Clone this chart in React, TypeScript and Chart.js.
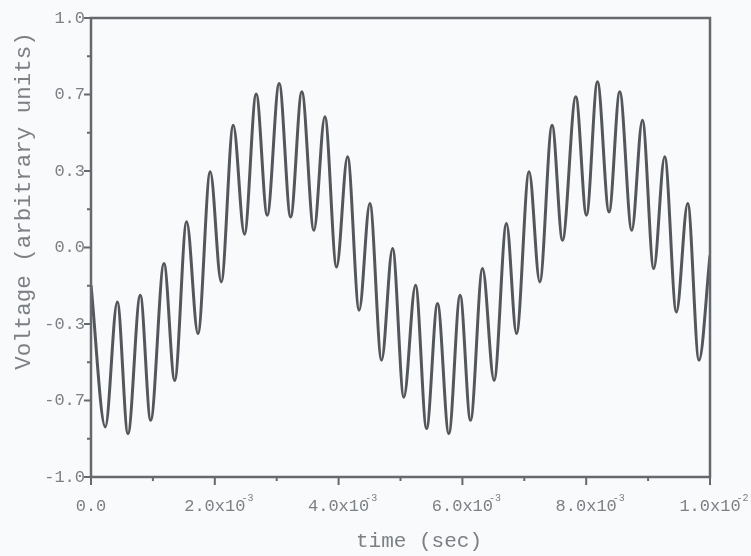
import React, { useEffect, useRef } from "react";
import { Chart, registerables } from "chart.js";

Chart.register(...registerables);

// Sampled waveform: time in milliseconds, voltage in arbitrary units (peaks and troughs)
const TIME_MS = [
  0, 0.231, 0.425, 0.597, 0.796, 0.964, 1.179, 1.352, 1.545, 1.728, 1.926, 2.104,
  2.298, 2.479, 2.669, 2.847, 3.04, 3.225, 3.406, 3.601, 3.778, 3.967, 4.145, 4.332,
  4.505, 4.694, 4.872, 5.054, 5.243, 5.421, 5.598, 5.781, 5.963, 6.131, 6.325, 6.512,
  6.712, 6.874, 7.077, 7.25, 7.449, 7.617, 7.832, 8.004, 8.182, 8.369, 8.542, 8.736,
  8.908, 9.091, 9.268, 9.457, 9.64, 9.822, 10.0,
];
const VOLTAGE = [
  -0.164, -0.782, -0.237, -0.811, -0.208, -0.753, -0.07, -0.579, 0.112, -0.375, 0.33, -0.15,
  0.533, 0.058, 0.669, 0.141, 0.715, 0.133, 0.679, 0.075, 0.57, -0.085, 0.395, -0.273,
  0.192, -0.491, -0.004, -0.652, -0.164, -0.789, -0.244, -0.811, -0.208, -0.753, -0.092, -0.579,
  0.105, -0.375, 0.33, -0.15, 0.533, 0.032, 0.657, 0.141, 0.722, 0.155, 0.679, 0.075,
  0.555, -0.092, 0.395, -0.281, 0.192, -0.491, -0.034,
];

// Axis ticks
const X_TICKS = [0, 2, 4, 6, 8, 10];
const X_TICK_LABELS = ["0.0", "2.0x10", "4.0x10", "6.0x10", "8.0x10", "1.0x10"];
const X_TICK_EXPONENTS = ["", "-3", "-3", "-3", "-3", "-2"];
const X_MINOR_TICKS = [1, 3, 5, 7, 9];
const Y_TICKS = [-1, -2 / 3, -1 / 3, 0, 1 / 3, 2 / 3, 1];
const Y_TICK_LABELS = ["-1.0", "-0.7", "-0.3", "0.0", "0.3", "0.7", "1.0"];
const Y_MINOR_TICKS = [-5 / 6, -0.5, -1 / 6, 1 / 6, 0.5, 5 / 6];

const X_TITLE = "time (sec)";
const Y_TITLE = "Voltage (arbitrary units)";

const FONT = "'Liberation Mono', 'Courier New', monospace";
const AXIS_COLOR = "#65696d";
const TEXT_COLOR = "#7c8084";
const LINE_COLOR = "#53575b";
const BG = "#f8fafb";

const framePlugin = {
  id: "frame",
  beforeDraw(chart: any) {
    const { ctx, width, height } = chart;
    ctx.save();
    ctx.fillStyle = BG;
    ctx.fillRect(0, 0, width, height);
    ctx.restore();
  },
  afterDraw(chart: any) {
    const { ctx, chartArea } = chart;
    const xs = chart.scales.x;
    const ys = chart.scales.y;
    const { left, right, top, bottom } = chartArea;
    ctx.save();
    ctx.strokeStyle = AXIS_COLOR;
    ctx.lineWidth = 2.5;
    ctx.strokeRect(left, top, right - left, bottom - top);

    // tick marks
    ctx.lineWidth = 2;
    ctx.beginPath();
    X_TICKS.forEach((v) => {
      const px = xs.getPixelForValue(v);
      ctx.moveTo(px, bottom);
      ctx.lineTo(px, bottom + 8);
    });
    X_MINOR_TICKS.forEach((v) => {
      const px = xs.getPixelForValue(v);
      ctx.moveTo(px, bottom);
      ctx.lineTo(px, bottom + 4);
    });
    Y_TICKS.forEach((v) => {
      const py = ys.getPixelForValue(v);
      ctx.moveTo(left, py);
      ctx.lineTo(left - 7, py);
    });
    Y_MINOR_TICKS.forEach((v) => {
      const py = ys.getPixelForValue(v);
      ctx.moveTo(left, py);
      ctx.lineTo(left - 4, py);
    });
    ctx.stroke();

    // tick labels
    ctx.fillStyle = TEXT_COLOR;
    ctx.font = `17px ${FONT}`;
    ctx.textBaseline = "middle";
    ctx.textAlign = "right";
    Y_TICKS.forEach((v, i) => {
      ctx.fillText(Y_TICK_LABELS[i], left - 6, ys.getPixelForValue(v));
    });
    X_TICKS.forEach((v, i) => {
      const px = xs.getPixelForValue(v);
      ctx.font = `17px ${FONT}`;
      ctx.textAlign = "center";
      ctx.fillText(X_TICK_LABELS[i], px, bottom + 29);
      const exp = X_TICK_EXPONENTS[i];
      if (exp) {
        const w = ctx.measureText(X_TICK_LABELS[i]).width;
        ctx.font = `10px ${FONT}`;
        ctx.textAlign = "left";
        ctx.fillText(exp, px + w / 2 - 4, bottom + 21);
      }
    });

    // axis titles
    ctx.font = `21px ${FONT}`;
    ctx.textAlign = "center";
    ctx.fillText(X_TITLE, 419, 541);
    ctx.font = `22.5px ${FONT}`;
    ctx.translate(24, 201);
    ctx.rotate(-Math.PI / 2);
    ctx.fillText(Y_TITLE, 0, 0);
    ctx.restore();
  },
};

export default function App() {
  const ref = useRef<HTMLCanvasElement | null>(null);

  useEffect(() => {
    if (!ref.current) return;
    const chart = new Chart(ref.current, {
      type: "line",
      data: {
        datasets: [
          {
            data: TIME_MS.map((t, i) => ({ x: t, y: VOLTAGE[i] })),
            borderColor: LINE_COLOR,
            borderWidth: 3,
            pointRadius: 0,
            cubicInterpolationMode: "monotone",
            fill: false,
          },
        ],
      },
      options: {
        responsive: false,
        animation: false,
        events: [],
        layout: { padding: { left: 91, right: 41, top: 18, bottom: 79 } },
        plugins: { legend: { display: false }, tooltip: { enabled: false } },
        scales: {
          x: { type: "linear", min: 0, max: 10, display: false },
          y: { type: "linear", min: -1, max: 1, display: false },
        },
      },
      plugins: [framePlugin],
    });
    return () => chart.destroy();
  }, []);

  return (
    <div style={{ position: "absolute", left: 0, top: 0, width: 751, height: 556 }}>
      <canvas ref={ref} width={751} height={556} style={{ display: "block" }} />
    </div>
  );
}
